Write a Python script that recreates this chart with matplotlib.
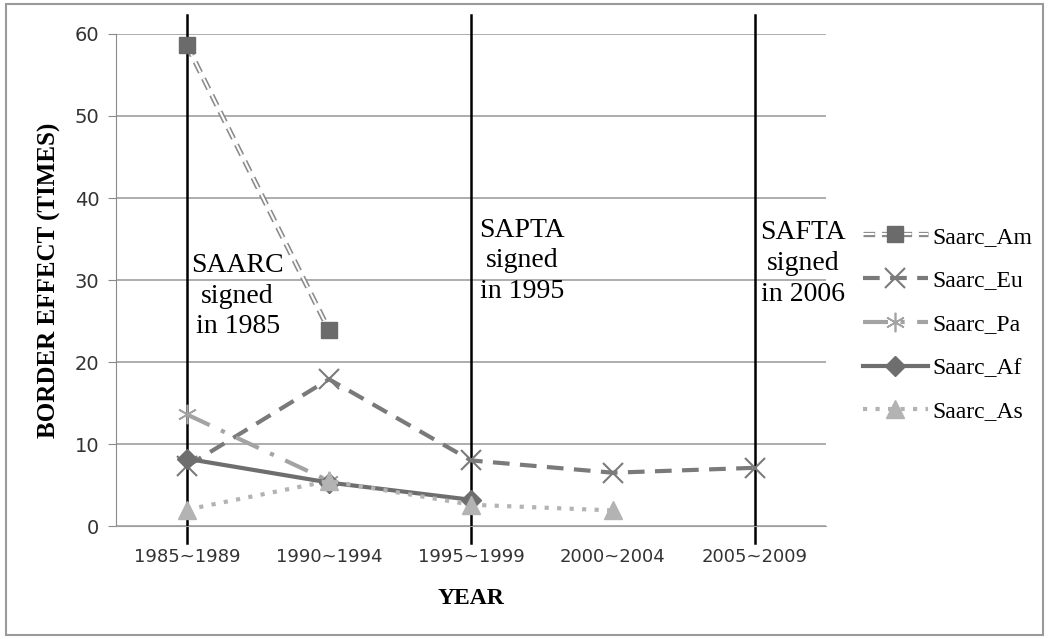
import numpy as np
import matplotlib
matplotlib.use("Agg")
import matplotlib.pyplot as plt
import matplotlib.patheffects as pe
from matplotlib.patches import Rectangle

periods = ["1985~1989", "1990~1994", "1995~1999", "2000~2004", "2005~2009"]
saarc_am = [58.6, 23.9, np.nan, np.nan, np.nan]
saarc_eu = [7.3, 17.9, 8.0, 6.5, 7.1]
saarc_pa = [13.6, 5.5, np.nan, np.nan, np.nan]
saarc_af = [8.2, 5.3, 3.2, np.nan, np.nan]
saarc_as = [2.0, 5.5, 2.6, 1.9, np.nan]
agreements = [(0, "SAARC\nsigned\nin 1985"), (2, "SAPTA\nsigned\nin 1995"), (4, "SAFTA\nsigned\nin 2006")]

SERIF = "Liberation Serif"
x = np.arange(len(periods))

fig = plt.figure(figsize=(10.49, 6.39), dpi=100)
fig.patches.append(Rectangle((0.006, 0.006), 0.988, 0.988, transform=fig.transFigure,
                             fill=False, edgecolor="#9a9a9a", linewidth=1.5))
ax = fig.add_axes([0.1106, 0.1768, 0.6768, 0.77])

ax.set_ylim(0, 60)
ax.set_xlim(-0.5, 4.5)
ax.set_yticks(range(0, 61, 10))
ax.grid(axis="y", color="#a0a0a0", linewidth=1.2)
ax.set_axisbelow(True)
for side in ("top", "right"):
    ax.spines[side].set_visible(False)
ax.spines["left"].set_color("#8a8a8a")
ax.spines["bottom"].set_color("#a0a0a0")
ax.tick_params(axis="y", colors="#8a8a8a", labelcolor="#333333", labelsize=14, length=6, pad=6)
ax.tick_params(axis="x", length=0, labelcolor="#333333", labelsize=13, pad=16)
ax.set_xticks(x)
ax.set_xticklabels(periods)

# agreement lines, running a little past the plot area
for pos, label in agreements:
    ax.axvline(pos, ymin=-0.035, ymax=1.038, color="black", linewidth=1.8, clip_on=False, zorder=2)

for (pos, label), dx, ytop in zip(agreements, (0.356, 0.36, 0.34), (33.3, 37.6, 37.3)):
    ax.text(pos + dx, ytop, label, family=SERIF, fontsize=20, ha="center", va="top",
            linespacing=1.3, zorder=1)

# Saarc_Am: hollow dashed line, drawn separately from its markers
am_line, = ax.plot(x, saarc_am, color="#8a8a8a", linestyle=(0, (6, 3.5)), linewidth=1.4,
                   path_effects=[pe.Stroke(linewidth=3.8, foreground="#8a8a8a"),
                                 pe.Stroke(linewidth=1.5, foreground="white")], zorder=4)
am_mark, = ax.plot(x, saarc_am, linestyle="none", marker="s", markersize=12,
                   markerfacecolor="#6b6b6b", markeredgecolor="#6b6b6b", zorder=5)
eu, = ax.plot(x, saarc_eu, color="#7a7a7a", linestyle=(0, (4, 2.5)), linewidth=3,
              marker="x", markersize=14, markeredgewidth=1.5, zorder=4)
pa, = ax.plot(x, saarc_pa, color="#a3a3a3", linestyle=(0, (6, 3, 1, 3)), linewidth=3,
              marker=(6, 2, 0), markersize=14, markeredgewidth=1.2, zorder=4)
af, = ax.plot(x, saarc_af, color="#6e6e6e", linestyle="-", linewidth=3,
              marker="D", markersize=10, zorder=4)
as_, = ax.plot(x, saarc_as, color="#b3b3b3", linestyle=(0, (1, 2)), linewidth=3,
               marker="^", markersize=13, zorder=4)

ax.set_xlabel("YEAR", family=SERIF, fontweight="bold", fontsize=17, labelpad=16)
ax.set_ylabel("BORDER EFFECT (TIMES)", family=SERIF, fontweight="bold", fontsize=18, labelpad=10)

ax.legend([(am_line, am_mark), eu, pa, af, as_],
          ["Saarc_Am", "Saarc_Eu", "Saarc_Pa", "Saarc_Af", "Saarc_As"],
          loc="center left", bbox_to_anchor=(1.022, 0.41), frameon=False,
          prop={"family": SERIF, "size": 17}, handlelength=2.75, labelspacing=0.94,
          handletextpad=0.2)

fig.savefig("out.png", dpi=100)
